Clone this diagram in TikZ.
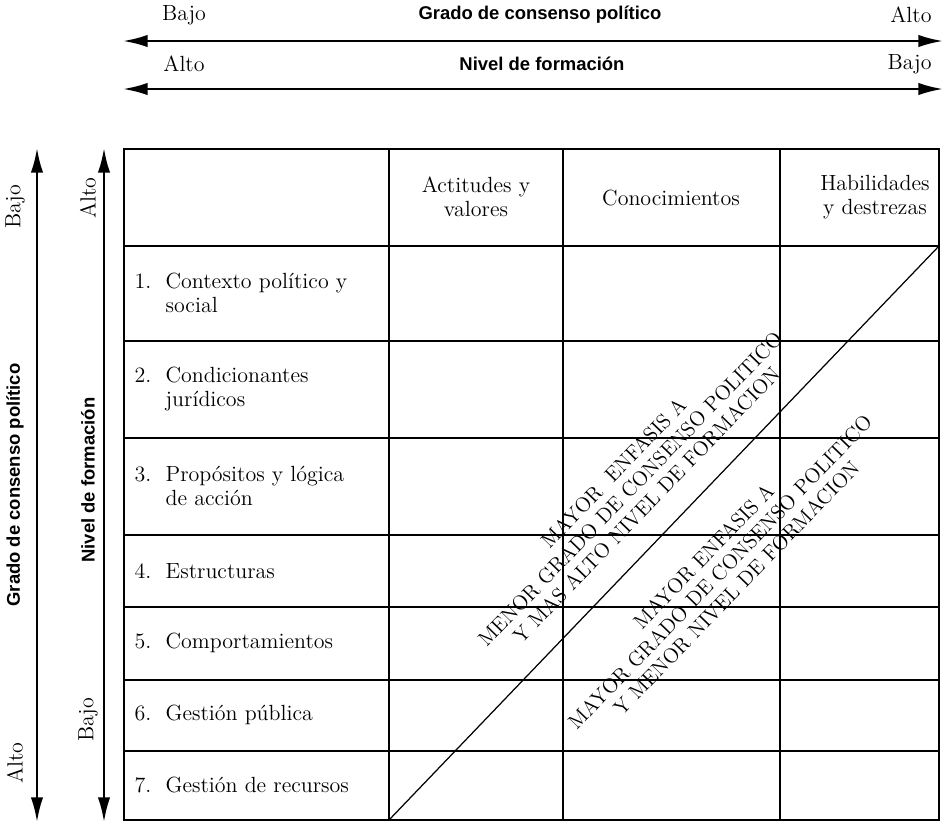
\documentclass[tikz,border=0pt]{standalone}
\usepackage{fontspec}
\setsansfont{Liberation Sans}
\usetikzlibrary{arrows.meta,positioning,calc}

\tikzset{
  axis/.style={line width=1.3pt,{Latex[length=14pt,width=7pt]}-{Latex[length=14pt,width=7pt]}},
  axislabel/.style={font=\sffamily\bfseries\fontsize{10.5}{12}\selectfont},
  endlabel/.style={font=\fontsize{12.5}{13}\selectfont},
  rowlabel/.style={anchor=west,align=left,inner sep=0pt,font=\fontsize{12.5}{13.5}\selectfont},
  headlabel/.style={align=center,inner sep=0pt,font=\fontsize{12.5}{13.5}\selectfont},
  emphasis/.style={rotate=46,align=center,inner sep=0pt,font=\fontsize{11.8}{13}\selectfont}
}
\newcommand\gap{\hphantom{1.\ \ }}

\begin{document}
\begin{tikzpicture}[x=0.02cm,y=-0.02cm,line width=0.7pt]
    \useasboundingbox (0,0) rectangle (947,823);
    % top axes
    \coordinate (GradoL) at (123,41);
    \coordinate (GradoR) at (943,41);
    \coordinate (NivelL) at (123,89);
    \coordinate (NivelR) at (943,89);
    \draw [axis] (GradoL) -- (GradoR);
    \draw [axis] (NivelL) -- (NivelR);
    \node [endlabel] (GradoBajo) at (184,15) {Bajo};
    \node [axislabel] (Grado) at (540,15) {Grado de consenso político};
    \node [endlabel,anchor=east] (GradoAlto) at (938,15) {Alto};
    \node [endlabel] (NivelAlto) at (184,64) {Alto};
    \node [axislabel] (Nivel) at (542,64) {Nivel de formación};
    \node [endlabel,anchor=east] (NivelBajo) at (938,64) {Bajo};
    % left axes
    \coordinate (GradoT) at (37,148);
    \coordinate (GradoB) at (37,822);
    \coordinate (NivelT) at (104,148);
    \coordinate (NivelB) at (104,822);
    \draw [axis] (GradoT) -- (GradoB);
    \draw [axis] (NivelT) -- (NivelB);
    \node [endlabel,rotate=90] (SideGradoBajo) at (15,207) {Bajo};
    \node [axislabel,rotate=90] (SideGrado) at (15,485) {Grado de consenso político};
    \node [endlabel,rotate=90] (SideGradoAlto) at (15,763) {Alto};
    \node [endlabel,rotate=90] (SideNivelAlto) at (88,198) {Alto};
    \node [axislabel,rotate=90] (SideNivel) at (88,480) {Nivel de formación};
    \node [endlabel,rotate=90] (SideNivelBajo) at (88,720) {Bajo};
    % table
    \foreach \y in {246,341,438,535,607,680,751}
        \draw (124,\y) -- (939,\y);
    \foreach \x in {389,563,780}
        \draw (\x,149) -- (\x,820);
    \draw [line width=1pt] (124,149) rectangle (939,820);
    \node [headlabel] (Actitudes) at (476,197) {Actitudes y\\valores};
    \node [headlabel] (Conocimientos) at (671,198) {Conocimientos};
    \node [headlabel] (Habilidades) at (875,197) {Habilidades\\y destrezas};
    \foreach \y/\txt [count=\i] in {293/{1.\ \ Contexto político y\\\gap social},
        389/{2.\ \ Condicionantes\\\gap jurídicos},
        486/{3.\ \ Propósitos y lógica\\\gap de acción},
        571/{4.\ \ Estructuras},
        643/{5.\ \ Comportamientos},
        715/{6.\ \ Gestión pública},
        785/{7.\ \ Gestión de recursos}}
        \node [rowlabel] (Row\i) at (134,\y) {\txt};
    % diagonal
    \coordinate (DiagA) at (389,820);
    \coordinate (DiagB) at (939,246);
    \draw (DiagA) -- (DiagB);
    \node [emphasis] (Menor) at (630,489) {MAYOR~~ENFASIS A\\MENOR GRADO DE CONSENSO POLITICO\\Y MAS ALTO NIVEL DE FORMACION};
    \node [emphasis] (Mayor) at (720,572) {MAYOR ENFASIS A\\MAYOR GRADO DE CONSENSO POLITICO\\Y MENOR NIVEL DE FORMACION};
\end{tikzpicture}
\end{document}
